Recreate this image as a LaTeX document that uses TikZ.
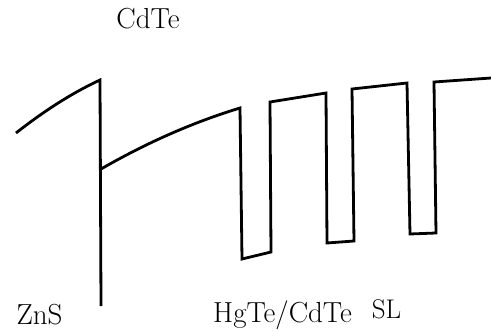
\documentclass[tikz,border=0pt]{standalone}
\begin{document}
\begin{tikzpicture}[x=1pt,y=-1pt,
  band/.style={line width=2.8pt, line join=miter, line cap=butt},
  lbl/.style={font=\fontsize{29}{31}\selectfont, inner sep=0pt, anchor=base}]
\useasboundingbox (0,0) rectangle (491,332);
% ZnS barrier
\draw[band] (16,133) .. controls (44,111) and (72,93) .. (100,80) -- (101,306);
% CdTe buffer and superlattice
\draw[band] (101,169) .. controls (148,142) and (194,122) .. (240,108)
  -- (242,259) -- (271,252) -- (270,102) -- (326,93) -- (327,243)
  -- (354,241) -- (352,89) -- (407,83) -- (410,234) -- (436,233)
  -- (434,82) -- (491,78);
\node[lbl] (cdte) at (148,28) {CdTe};
\node[lbl] (zns) at (39.5,324) {ZnS};
\node[lbl] (sl) at (282.5,322) {HgTe/CdTe};
\node[lbl, font=\fontsize{27}{29}\selectfont] (sl2) at (386.5,318) {SL};
\end{tikzpicture}
\end{document}
